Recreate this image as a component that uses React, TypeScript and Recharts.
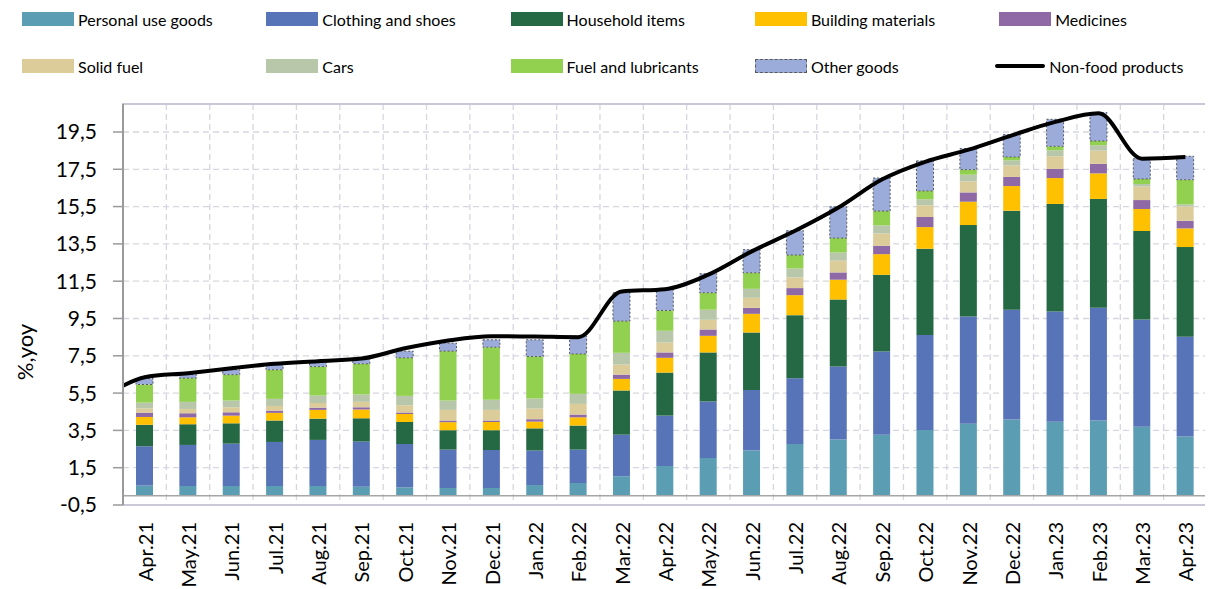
import React from "react";
import {
  ComposedChart,
  Bar,
  Line,
  XAxis,
  YAxis,
  CartesianGrid,
  ReferenceLine,
  ReferenceArea,
} from "recharts";

const months = [
  "Apr.21", "May.21", "Jun.21", "Jul.21", "Aug.21", "Sep.21", "Oct.21", "Nov.21", "Dec.21",
  "Jan.22", "Feb.22", "Mar.22", "Apr.22", "May.22", "Jun.22", "Jul.22", "Aug.22", "Sep.22",
  "Oct.22", "Nov.22", "Dec.22", "Jan.23", "Feb.23", "Mar.23", "Apr.23",
];

const personalUse = [0.54, 0.52, 0.52, 0.52, 0.52, 0.48, 0.45, 0.41, 0.41, 0.57, 0.68, 1.04, 1.59, 2.02, 2.42, 2.77, 3.01, 3.27, 3.52, 3.85, 4.08, 3.97, 4.03, 3.7, 3.17];
const clothing = [2.11, 2.2, 2.27, 2.36, 2.47, 2.42, 2.32, 2.06, 2.04, 1.85, 1.79, 2.23, 2.7, 3.03, 3.25, 3.53, 3.91, 4.46, 5.1, 5.76, 5.89, 5.91, 6.04, 5.75, 5.35];
const household = [1.15, 1.11, 1.09, 1.15, 1.14, 1.25, 1.18, 1.04, 1.06, 1.19, 1.29, 2.37, 2.31, 2.63, 3.08, 3.38, 3.6, 4.11, 4.62, 4.9, 5.31, 5.76, 5.84, 4.74, 4.81];
const building = [0.42, 0.37, 0.41, 0.41, 0.47, 0.47, 0.43, 0.43, 0.44, 0.36, 0.44, 0.62, 0.79, 0.89, 1.0, 1.07, 1.06, 1.11, 1.16, 1.25, 1.32, 1.39, 1.37, 1.18, 1.0];
const medicines = [0.23, 0.22, 0.18, 0.12, 0.12, 0.12, 0.08, 0.09, 0.08, 0.13, 0.15, 0.23, 0.29, 0.34, 0.32, 0.38, 0.39, 0.45, 0.54, 0.5, 0.49, 0.49, 0.51, 0.48, 0.41];
const solidFuel = [0.23, 0.23, 0.27, 0.25, 0.25, 0.29, 0.39, 0.57, 0.57, 0.57, 0.57, 0.54, 0.53, 0.52, 0.54, 0.57, 0.63, 0.66, 0.63, 0.59, 0.61, 0.68, 0.71, 0.72, 0.77];
const cars = [0.31, 0.38, 0.36, 0.38, 0.4, 0.4, 0.5, 0.5, 0.54, 0.54, 0.54, 0.63, 0.63, 0.54, 0.48, 0.48, 0.44, 0.43, 0.32, 0.36, 0.28, 0.32, 0.29, 0.14, 0.11];
const fuel = [0.97, 1.27, 1.39, 1.56, 1.55, 1.64, 2.04, 2.65, 2.82, 2.25, 2.14, 1.7, 1.09, 0.91, 0.86, 0.72, 0.77, 0.77, 0.45, 0.27, 0.18, 0.21, 0.23, 0.27, 1.32];
const otherGoods = [0.32, 0.19, 0.26, 0.32, 0.24, 0.27, 0.36, 0.43, 0.4, 0.9, 0.97, 1.52, 1.11, 1.02, 1.24, 1.31, 1.68, 1.77, 1.61, 1.13, 1.2, 1.45, 1.52, 1.09, 1.26];

const nonFood = [6.35, 6.57, 6.83, 7.07, 7.21, 7.35, 7.9, 8.32, 8.55, 8.53, 8.5, 10.95, 11.07, 11.85, 13.1, 14.2, 15.45, 16.95, 17.9, 18.55, 19.32, 20.04, 20.5, 18.07, 18.16];
const nonFoodStart = 5.9;

const yTicks = [-0.5, 1.5, 3.5, 5.5, 7.5, 9.5, 11.5, 13.5, 15.5, 17.5, 19.5];

const series = [
  { key: "personalUse", name: "Personal use goods", color: "#5b9db2", values: personalUse },
  { key: "clothing", name: "Clothing and shoes", color: "#5874b8", values: clothing },
  { key: "household", name: "Household items", color: "#246844", values: household },
  { key: "building", name: "Building materials", color: "#ffc000", values: building },
  { key: "medicines", name: "Medicines", color: "#8f69a6", values: medicines },
  { key: "solidFuel", name: "Solid fuel", color: "#dccc99", values: solidFuel },
  { key: "cars", name: "Cars", color: "#b8c6a9", values: cars },
  { key: "fuel", name: "Fuel and lubricants", color: "#92d050", values: fuel },
  { key: "otherGoods", name: "Other goods", color: "#9bacdb", values: otherGoods },
];

const barData = months.map((m, i) => {
  const row: Record<string, number | string> = { month: m };
  series.forEach((s) => {
    row[s.key] = s.values[i];
  });
  return row;
});

const lineData = [
  { x: -0.5, v: nonFoodStart },
  ...nonFood.map((v, i) => ({ x: i, v })),
];

const boundaries = [...months.map((_, i) => i - 0.5), months.length - 0.5];

const FONT = "Lato, 'Open Sans', sans-serif";

function MonthTick(props: any) {
  const { x, y, payload } = props;
  return (
    <text
      x={x}
      y={y}
      transform={`rotate(-90, ${x}, ${y})`}
      textAnchor="end"
      dominantBaseline="central"
      fontSize={20}
      fontFamily={FONT}
      fill="#000"
    >
      {payload.value}
    </text>
  );
}

function LegendItem({ name, color, dashed, line }: { name: string; color?: string; dashed?: boolean; line?: boolean }) {
  return (
    <div style={{ display: "flex", alignItems: "center", height: 20 }}>
      {line ? (
        <div style={{ width: 50, height: 4, background: "#000", borderRadius: 2, marginRight: 4 }} />
      ) : (
        <div
          style={{
            width: dashed ? 50 : 52,
            height: dashed ? 12 : 14,
            background: color,
            border: dashed ? "1px dashed #595959" : "none",
            marginRight: 4,
          }}
        />
      )}
      <span style={{ fontSize: 16, fontFamily: FONT, color: "#000", whiteSpace: "nowrap" }}>{name}</span>
    </div>
  );
}

export default function App() {
  const legendRows = [series.slice(0, 5), series.slice(5)];
  return (
    <div style={{ position: "relative", width: 1205, height: 581 }}>
      <ComposedChart
        width={1205}
        height={581}
        data={barData}
        margin={{ top: 96, right: 6, left: 0, bottom: 0 }}
        barCategoryGap="30%"
      >
        <CartesianGrid
          xAxisId="line"
          stroke="#d6d6e0"
          strokeWidth={1.3}
          strokeDasharray="6 4"
        />
        <ReferenceArea y1={-0.5} y2={21} fill="none" stroke="#cbc7d7" strokeWidth={2} ifOverflow="visible" />
        <XAxis
          dataKey="month"
          height={84}
          axisLine={false}
          tickLine={false}
          tickSize={0}
          tickMargin={17}
          interval={0}
          tick={<MonthTick />}
        />
        <XAxis
          xAxisId="line"
          type="number"
          dataKey="x"
          domain={[-0.5, months.length - 0.5]}
          ticks={boundaries}
          allowDataOverflow
          hide
        />
        <YAxis
          width={115}
          domain={[-0.5, 21]}
          ticks={yTicks}
          interval={0}
          allowDataOverflow
          axisLine={{ stroke: "#9a9a9a", strokeWidth: 2 }}
          tickLine={{ stroke: "#9a9a9a", strokeWidth: 1.5 }}
          tickSize={10}
          tickMargin={16}
          tick={{ fontSize: 21, fontFamily: FONT, fill: "#000" }}
          tickFormatter={(v: number) => v.toFixed(1).replace(".", ",")}
          label={{
            content: () => (
              <text
                x={16}
                y={344}
                transform="rotate(-90, 16, 344)"
                textAnchor="middle"
                dominantBaseline="central"
                fontSize={22}
                fontFamily={FONT}
                fill="#000"
              >
                %,yoy
              </text>
            ),
          }}
        />
        {series.map((s) => (
          <Bar
            key={s.key}
            dataKey={s.key}
            name={s.name}
            stackId="a"
            fill={s.color}
            stroke={s.key === "otherGoods" ? "#595959" : "none"}
            strokeDasharray={s.key === "otherGoods" ? "2 2" : undefined}
            strokeWidth={s.key === "otherGoods" ? 1 : 0}
            isAnimationActive={false}
          />
        ))}
        <ReferenceLine y={0} stroke="#a6a6a6" strokeWidth={1.5} />
        <Line
          xAxisId="line"
          data={lineData}
          dataKey="v"
          name="Non-food products"
          type="monotone"
          stroke="#000"
          strokeWidth={4}
          dot={false}
          activeDot={false}
          isAnimationActive={false}
        />
      </ComposedChart>
      {legendRows.map((row, r) => (
        <div
          key={r}
          style={{ position: "absolute", left: 14, top: r === 0 ? 1 : 48, display: "flex" }}
        >
          {row.map((s) => (
            <div key={s.key} style={{ width: 244.3 }}>
              <LegendItem name={s.name} color={s.color} dashed={s.key === "otherGoods"} />
            </div>
          ))}
          {r === 1 && (
            <div style={{ width: 244.3, marginLeft: -4 }}>
              <LegendItem name="Non-food products" line />
            </div>
          )}
        </div>
      ))}
    </div>
  );
}
